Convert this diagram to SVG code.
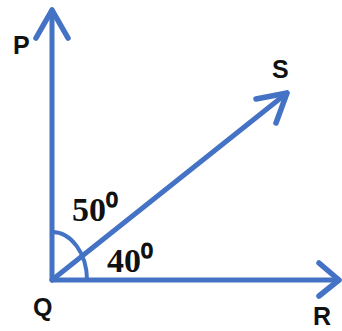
<svg xmlns="http://www.w3.org/2000/svg" width="342" height="331" viewBox="0 0 342 331">
  <style>
    .ray { stroke: #4472C4; stroke-width: 5; fill: none; stroke-linecap: round; }
    .head { stroke: #4472C4; stroke-width: 5.5; fill: none; stroke-linecap: round; stroke-linejoin: round; }
    .arc { stroke: #4472C4; stroke-width: 4; fill: none; }
    .pt { font-family: "Liberation Sans", Arial, sans-serif; font-weight: bold; font-size: 25px; fill: #111; }
    .ang { font-family: "Liberation Serif", "Times New Roman", serif; font-weight: bold; font-size: 34px; fill: #111; }
  </style>
  <rect width="342" height="331" fill="#ffffff"/>
  <g id="connectors">
    <line class="ray" x1="52" y1="280" x2="52" y2="10"/>
    <line class="ray" x1="52" y1="280" x2="339" y2="280"/>
    <line class="ray" x1="52" y1="280" x2="287" y2="93"/>
    <polyline class="head" points="36,38 52,10 68,38"/>
    <polyline class="head" points="256,99 287,93 276,123"/>
    <polyline class="head" points="319,263 339,280 319,296"/>
    <path class="arc" d="M52,232 A35,48 0 0 1 87,280"/>
  </g>
  <g id="node-P"><text class="pt" x="13" y="54">P</text></g>
  <g id="node-S"><text class="pt" x="272" y="78">S</text></g>
  <g id="node-Q"><text class="pt" x="33" y="316">Q</text></g>
  <g id="node-R"><text class="pt" x="313" y="325">R</text></g>
  <g id="angle-PQS"><text class="ang" x="72" y="221">50⁰</text></g>
  <g id="angle-SQR"><text class="ang" x="107" y="272">40⁰</text></g>
</svg>
